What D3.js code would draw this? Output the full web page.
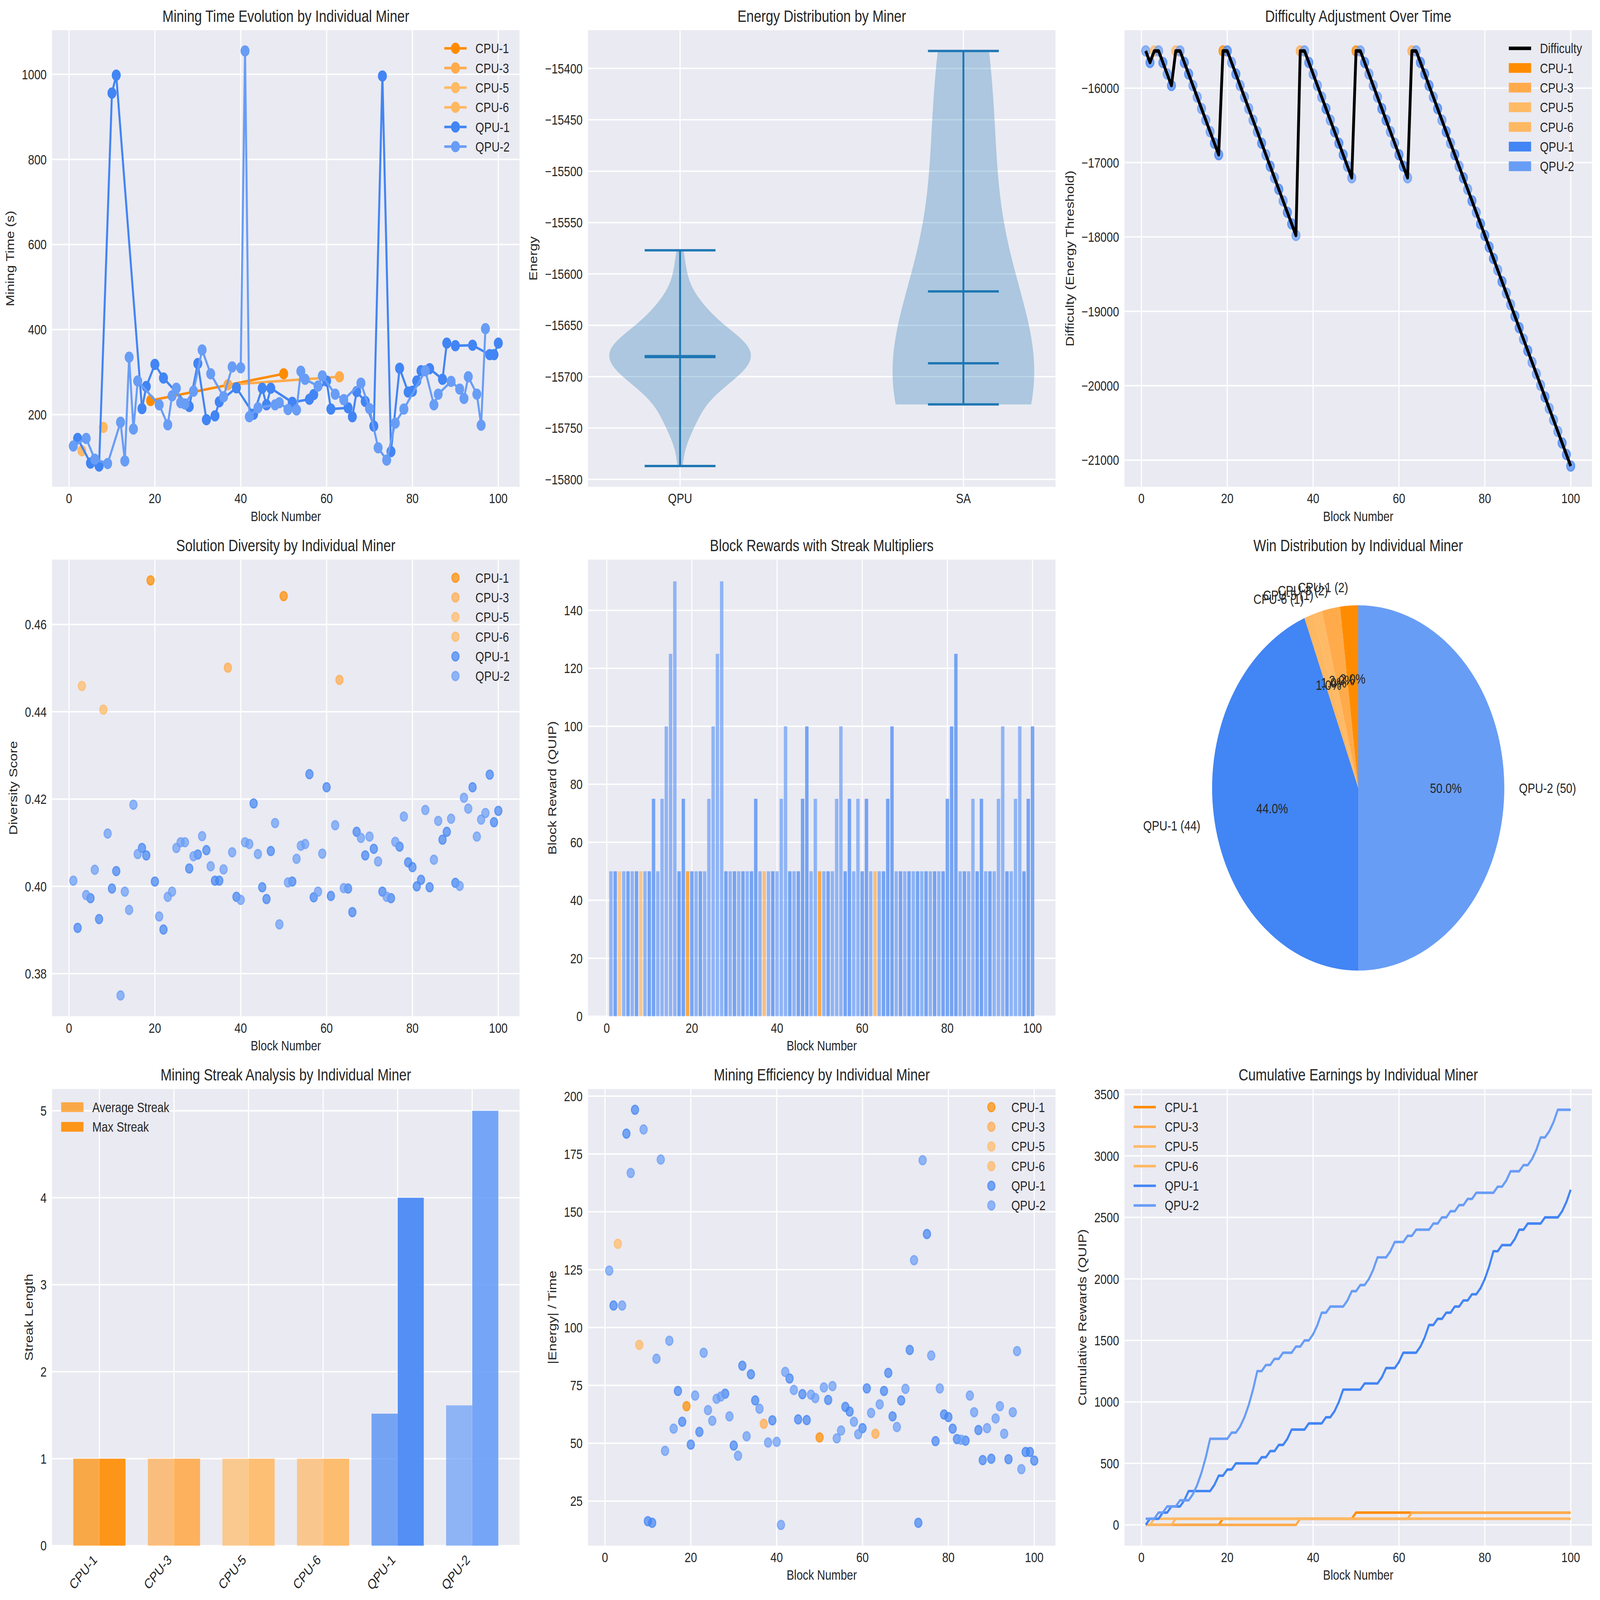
<!DOCTYPE html>
<html>
<head>
<meta charset="utf-8">
<script src="https://cdn.jsdelivr.net/npm/d3@7"></script>
<style>
  html, body { margin: 0; padding: 0; background: #fff; overflow: hidden; }
  #fig { display: block; width: 100vw; height: 100vh; }
  text { font-family: "Liberation Sans", Arial, sans-serif; fill: #262626; }
</style>
</head>
<body>
<svg id="fig"></svg>
<script>
// ---- data ----
const miners = ["CPU-1", "CPU-3", "CPU-5", "CPU-6", "QPU-1", "QPU-2"];
const minerColors = ["#FF8C00", "#FFAB4C", "#FFBA66", "#FFB862", "#4285F4", "#689DF6"];
const codeNames = { C1: "CPU-1", C3: "CPU-3", C5: "CPU-5", C6: "CPU-6", Q1: "QPU-1", Q2: "QPU-2" };

const blocks = d3.range(1, 101);

const winnerCodes = [
  "Q2","Q1","C5","Q2","Q1","Q2","Q1","C6","Q2","Q1",
  "Q1","Q2","Q2","Q2","Q2","Q2","Q1","Q1","C1","Q1",
  "Q2","Q1","Q2","Q2","Q2","Q2","Q2","Q1","Q2","Q1",
  "Q2","Q1","Q2","Q1","Q1","Q2","C3","Q2","Q1","Q2",
  "Q2","Q2","Q1","Q2","Q1","Q1","Q1","Q2","Q2","C1",
  "Q2","Q1","Q2","Q2","Q2","Q1","Q1","Q2","Q2","Q1",
  "Q1","Q2","C3","Q2","Q1","Q1","Q1","Q2","Q1","Q2",
  "Q1","Q2","Q1","Q2","Q1","Q2","Q1","Q2","Q1","Q1",
  "Q1","Q1","Q2","Q1","Q2","Q2","Q1","Q1","Q2","Q1",
  "Q2","Q2","Q2","Q1","Q2","Q2","Q2","Q1","Q1","Q1"
];

const miningTime = [
  126, 144, 115, 144, 86, 95, 79, 170, 85, 956,
  998, 182, 91, 335, 166, 279, 214, 266, 233, 318,
  223, 286, 176, 244, 262, 228, 225, 219, 255, 320,
  352, 188, 296, 197, 230, 242, 270, 312, 263, 310,
  1055, 195, 201, 216, 262, 223, 262, 223, 228, 296,
  212, 229, 211, 302, 283, 236, 247, 267, 291, 279,
  213, 248, 289, 235, 216, 195, 254, 274, 231, 214,
  173, 122, 996, 93, 113, 180, 309, 213, 253, 255,
  279, 303, 303, 308, 223, 248, 283, 368, 278, 362,
  260, 238, 289, 363, 248, 175, 402, 341, 341, 368
];

const rewards = [
  50, 50, 50, 50, 50, 50, 50, 50, 50, 50,
  75, 50, 75, 100, 125, 150, 50, 75, 50, 50,
  50, 50, 50, 75, 100, 125, 150, 50, 50, 50,
  50, 50, 50, 50, 75, 50, 50, 50, 50, 50,
  75, 100, 50, 50, 50, 75, 100, 50, 75, 50,
  50, 50, 50, 75, 100, 50, 75, 50, 75, 50,
  75, 50, 50, 50, 50, 75, 100, 50, 50, 50,
  50, 50, 50, 50, 50, 50, 50, 50, 50, 75,
  100, 125, 50, 50, 50, 75, 50, 75, 50, 50,
  50, 75, 100, 50, 50, 75, 100, 50, 75, 100
];

const difficulty = [
  -15500, -15655, -15500, -15500, -15655, -15810, -15965, -15500, -15500, -15655,
  -15810, -15965, -16120, -16275, -16430, -16585, -16740, -16895, -15500, -15500,
  -15655, -15810, -15965, -16120, -16275, -16430, -16585, -16740, -16895, -17050,
  -17205, -17360, -17515, -17670, -17825, -17980, -15500, -15500, -15655, -15810,
  -15965, -16120, -16275, -16430, -16585, -16740, -16895, -17050, -17205, -15500,
  -15500, -15655, -15810, -15965, -16120, -16275, -16430, -16585, -16740, -16895,
  -17050, -17205, -15500, -15500, -15655, -15810, -15965, -16120, -16275, -16430,
  -16585, -16740, -16895, -17050, -17205, -17360, -17515, -17670, -17825, -17980,
  -18135, -18290, -18445, -18600, -18755, -18910, -19065, -19220, -19375, -19530,
  -19685, -19840, -19995, -20150, -20305, -20460, -20615, -20770, -20925, -21080
];

const diversity = [
  0.4013, 0.3905, 0.4459, 0.3980, 0.3973, 0.4038, 0.3925, 0.4405, 0.4121, 0.3995,
  0.4035, 0.3750, 0.3988, 0.3946, 0.4187, 0.4074, 0.4088, 0.4071, 0.4701, 0.4011,
  0.3931, 0.3901, 0.3976, 0.3988, 0.4088, 0.4101, 0.4101, 0.4041, 0.4069, 0.4073,
  0.4115, 0.4083, 0.4046, 0.4013, 0.4013, 0.4039, 0.4501, 0.4078, 0.3976, 0.3969,
  0.4101, 0.4097, 0.4190, 0.4074, 0.3998, 0.3971, 0.4081, 0.4145, 0.3913, 0.4665,
  0.4009, 0.4011, 0.4063, 0.4093, 0.4097, 0.4257, 0.3975, 0.3988, 0.4075, 0.4227,
  0.3978, 0.4140, 0.4473, 0.3996, 0.3995, 0.3941, 0.4125, 0.4111, 0.4071, 0.4114,
  0.4086, 0.4057, 0.3988, 0.3976, 0.3973, 0.4102, 0.4091, 0.4160, 0.4055, 0.4044,
  0.4000, 0.4015, 0.4175, 0.3998, 0.4061, 0.4150, 0.4107, 0.4125, 0.4155, 0.4008,
  0.4001, 0.4203, 0.4178, 0.4227, 0.4114, 0.4153, 0.4168, 0.4256, 0.4147, 0.4173
];

const efficiency = [
  124.6, 109.5, 136.2, 109.5, 183.8, 166.8, 194.1, 92.5, 185.6, 16.3,
  15.6, 86.5, 172.6, 46.7, 94.3, 56.3, 72.6, 59.3, 66.0, 49.4,
  70.6, 54.9, 89.1, 64.3, 59.7, 69.2, 70.2, 71.4, 61.6, 49.0,
  44.6, 83.5, 53.0, 79.8, 68.5, 64.9, 58.4, 50.3, 59.9, 50.6,
  14.7, 80.8, 78.0, 73.0, 60.3, 71.2, 60.0, 71.0, 69.5, 52.5,
  74.1, 68.7, 74.7, 52.1, 55.5, 65.7, 63.7, 59.3, 53.9, 56.5,
  73.7, 63.1, 54.1, 66.8, 72.6, 80.4, 61.6, 57.0, 68.5, 73.5,
  90.3, 129.1, 15.6, 172.3, 140.4, 87.9, 50.9, 73.7, 62.4, 61.3,
  56.3, 51.8, 51.5, 51.1, 70.6, 63.4, 55.7, 42.7, 56.5, 43.3,
  60.7, 66.0, 54.1, 43.1, 63.4, 89.8, 38.8, 46.2, 46.2, 42.5
];

const qpuEnergy = [
  -15787, -15764, -15755, -15750, -15746, -15742, -15739, -15736, -15732, -15729,
  -15726, -15723, -15720, -15718, -15716, -15714, -15712, -15710, -15709, -15708,
  -15707, -15705, -15704, -15702, -15701, -15700, -15699, -15698, -15697, -15696,
  -15695, -15694, -15693, -15692, -15691, -15690, -15689, -15688, -15688, -15687,
  -15686, -15685, -15684, -15683, -15682, -15681, -15680, -15680, -15679, -15679,
  -15678, -15677, -15676, -15675, -15674, -15673, -15672, -15671, -15670, -15670,
  -15669, -15668, -15668, -15667, -15666, -15665, -15664, -15663, -15662, -15661,
  -15660, -15659, -15658, -15656, -15654, -15652, -15651, -15649, -15648, -15646,
  -15643, -15641, -15639, -15638, -15636, -15633, -15630, -15628, -15624, -15619,
  -15612, -15602, -15591, -15577
];
const saEnergy = [-15727, -15712, -15695, -15679, -15506, -15383];
const violinLabels = ["QPU", "SA"];

const blockTicks = [0, 20, 40, 60, 80, 100];
const timeTicks = [200, 400, 600, 800, 1000];
const energyTicks = [-15800, -15750, -15700, -15650, -15600, -15550, -15500, -15450, -15400];
const diffTicks = [-21000, -20000, -19000, -18000, -17000, -16000];
const diversityTicks = [0.38, 0.40, 0.42, 0.44, 0.46];
const rewardTicks = [0, 20, 40, 60, 80, 100, 120, 140];
const streakTicks = [0, 1, 2, 3, 4, 5];
const effTicks = [25, 50, 75, 100, 125, 150, 175, 200];
const cumTicks = [0, 500, 1000, 1500, 2000, 2500, 3000, 3500];

// ---- layout ----
const W = 5962, H = 4769;
const colX = [194, 2191, 4190], rowY = [90, 1668, 3246];
const PW = 1742, PH = 1361;
const FS = 41.7, TFS = 50;
const BG = "#EAEAF2";

const winners = winnerCodes.map(c => codeNames[c]);
const colorOf = m => minerColors[miners.indexOf(m)];

// the figure is stretched to fill the whole window
const svg = d3.select("#fig").attr("viewBox", `0 0 ${W} ${H}`).attr("preserveAspectRatio", "none");
svg.append("rect").attr("width", W).attr("height", H).attr("fill", "#fff");

function panel(c, r) {
  const g = svg.append("g").attr("transform", `translate(${colX[c]},${rowY[r]})`);
  return { g, w: PW, h: PH };
}
function padded(lo, hi) { const d = (hi - lo) * 0.05; return [lo - d, hi + d]; }
const fmtNum = v => (v < 0 ? "\u2212" + Math.abs(v) : String(v));

function frame(p, x, y, o) {
  const g = p.g;
  g.append("rect").attr("width", p.w).attr("height", p.h).attr("fill", BG);
  const grid = g.append("g").attr("stroke", "#fff").attr("stroke-width", 4.2);
  o.xticks.forEach(t => grid.append("line").attr("x1", x(t)).attr("x2", x(t)).attr("y1", 0).attr("y2", p.h));
  o.yticks.forEach(t => grid.append("line").attr("x1", 0).attr("x2", p.w).attr("y1", y(t)).attr("y2", y(t)));

  let maxw = 0;
  o.yticks.forEach(t => {
    const tx = g.append("text").attr("x", -20).attr("y", y(t)).attr("dy", "0.35em")
      .attr("text-anchor", "end").attr("font-size", FS).text(o.fy ? o.fy(t) : fmtNum(t));
    maxw = Math.max(maxw, tx.node().getComputedTextLength());
  });
  o.xticks.forEach((t, i) => {
    const lab = o.xlabels ? o.xlabels[i] : fmtNum(t);
    if (o.rotate) {
      g.append("text").attr("text-anchor", "end").attr("font-size", FS)
        .attr("transform", `translate(${x(t) - 6},${p.h + 45}) rotate(-45)`).text(lab);
    } else {
      g.append("text").attr("x", x(t)).attr("y", p.h + 49).attr("text-anchor", "middle")
        .attr("font-size", FS).text(lab);
    }
  });
  g.append("text").attr("x", p.w / 2).attr("y", -25).attr("text-anchor", "middle")
    .attr("font-size", TFS).text(o.title);
  if (o.xlabel) g.append("text").attr("x", p.w / 2).attr("y", p.h + 102)
    .attr("text-anchor", "middle").attr("font-size", FS).text(o.xlabel);
  if (o.ylabel) g.append("text").attr("text-anchor", "middle").attr("font-size", FS)
    .attr("transform", `translate(${-20 - maxw - 29},${p.h / 2}) rotate(-90)`).text(o.ylabel);
}

function legend(p, items, corner) {
  const rowH = 58.6;
  const g = p.g.append("g");
  let tw = 0;
  items.forEach((it, i) => {
    const t = g.append("text").attr("x", 116).attr("y", i * rowH).attr("dy", "0.35em")
      .attr("font-size", FS).text(it.label);
    tw = Math.max(tw, t.node().getComputedTextLength());
    const cy = i * rowH;
    if (it.type === "line" || it.type === "linemarker") {
      g.append("line").attr("x1", 0).attr("x2", 83).attr("y1", cy).attr("y2", cy)
        .attr("stroke", it.color).attr("stroke-width", it.lw || 7.5);
    }
    if (it.type === "linemarker") {
      g.append("circle").attr("cx", 41.5).attr("cy", cy).attr("r", 15)
        .attr("fill", it.color).attr("stroke", it.color).attr("stroke-width", 3.5);
    }
    if (it.type === "marker") {
      g.append("circle").attr("cx", 41.5).attr("cy", cy).attr("r", 13.5)
        .attr("fill", it.color).attr("fill-opacity", 0.7)
        .attr("stroke", it.color).attr("stroke-opacity", 0.7).attr("stroke-width", 4);
    }
    if (it.type === "patch") {
      g.append("rect").attr("x", 0).attr("y", cy - 14.5).attr("width", 83).attr("height", 29)
        .attr("fill", it.color).attr("fill-opacity", it.alpha == null ? 1 : it.alpha);
    }
  });
  const bw = 116 + tw;
  const x0 = corner === "ur" ? p.w - 37 - bw : 34;
  g.attr("transform", `translate(${x0},54)`);
}

const blockX = p => d3.scaleLinear().domain(padded(1, 100)).range([0, p.w]);

// ---- 1. mining time ----
{
  const p = panel(0, 0);
  const x = blockX(p);
  const y = d3.scaleLinear().domain(padded(d3.min(miningTime), d3.max(miningTime))).range([p.h, 0]);
  frame(p, x, y, { xticks: blockTicks, yticks: timeTicks, title: "Mining Time Evolution by Individual Miner",
    xlabel: "Block Number", ylabel: "Mining Time (s)" });
  miners.forEach(m => {
    const pts = blocks.filter((b, i) => winners[i] === m).map(b => [b, miningTime[b - 1]]);
    const c = colorOf(m);
    p.g.append("path").attr("d", d3.line().x(d => x(d[0])).y(d => y(d[1]))(pts))
      .attr("fill", "none").attr("stroke", c).attr("stroke-width", 7.5).attr("stroke-linejoin", "round");
    p.g.append("g").selectAll("circle").data(pts).join("circle")
      .attr("cx", d => x(d[0])).attr("cy", d => y(d[1])).attr("r", 15)
      .attr("fill", c).attr("stroke", c).attr("stroke-width", 3.5);
  });
  legend(p, miners.map(m => ({ label: m, color: colorOf(m), type: "linemarker" })), "ur");
}

// ---- 2. energy violin ----
{
  const p = panel(1, 0);
  const x = d3.scaleLinear().domain([0.675, 2.325]).range([0, p.w]);
  const all = qpuEnergy.concat(saEnergy);
  const y = d3.scaleLinear().domain(padded(d3.min(all), d3.max(all))).range([p.h, 0]);
  frame(p, x, y, { xticks: [1, 2], xlabels: violinLabels, yticks: energyTicks,
    title: "Energy Distribution by Miner", ylabel: "Energy" });
  const blue = "#1f77b4";
  [qpuEnergy, saEnergy].forEach((vals, k) => {
    const pos = k + 1;
    const n = vals.length, bw = d3.deviation(vals) * Math.pow(n, -0.2);
    const lo = d3.min(vals), hi = d3.max(vals);
    const prof = d3.range(100).map(i => {
      const e = lo + (hi - lo) * i / 99;
      return [e, d3.sum(vals, v => Math.exp(-0.5 * ((e - v) / bw) ** 2))];
    });
    const mx = d3.max(prof, d => d[1]);
    p.g.append("path")
      .attr("d", d3.area().y(d => y(d[0])).x0(d => x(pos - 0.25 * d[1] / mx)).x1(d => x(pos + 0.25 * d[1] / mx))(prof))
      .attr("fill", blue).attr("fill-opacity", 0.3);
    const lg = p.g.append("g").attr("stroke", blue).attr("stroke-width", 7);
    lg.append("line").attr("x1", x(pos)).attr("x2", x(pos)).attr("y1", y(lo)).attr("y2", y(hi));
    [lo, hi, d3.mean(vals), d3.median(vals)].forEach(v =>
      lg.append("line").attr("x1", x(pos - 0.125)).attr("x2", x(pos + 0.125)).attr("y1", y(v)).attr("y2", y(v)));
  });
}

// ---- 3. difficulty ----
{
  const p = panel(2, 0);
  const x = blockX(p);
  const y = d3.scaleLinear().domain(padded(d3.min(difficulty), d3.max(difficulty))).range([p.h, 0]);
  frame(p, x, y, { xticks: blockTicks, yticks: diffTicks, title: "Difficulty Adjustment Over Time",
    xlabel: "Block Number", ylabel: "Difficulty (Energy Threshold)" });
  p.g.append("g").selectAll("circle").data(blocks).join("circle")
    .attr("cx", b => x(b)).attr("cy", b => y(difficulty[b - 1])).attr("r", 15)
    .attr("fill", b => colorOf(winners[b - 1])).attr("fill-opacity", 0.7)
    .attr("stroke", b => colorOf(winners[b - 1])).attr("stroke-opacity", 0.7).attr("stroke-width", 4);
  p.g.append("path").attr("d", d3.line().x(b => x(b)).y(b => y(difficulty[b - 1]))(blocks))
    .attr("fill", "none").attr("stroke", "#000").attr("stroke-width", 10.5).attr("stroke-linejoin", "round");
  legend(p, [{ label: "Difficulty", color: "#000", type: "line", lw: 10.5 }]
    .concat(miners.map(m => ({ label: m, color: colorOf(m), type: "patch" }))), "ur");
}

// ---- 4. diversity ----
{
  const p = panel(0, 1);
  const x = blockX(p);
  const y = d3.scaleLinear().domain(padded(d3.min(diversity), d3.max(diversity))).range([p.h, 0]);
  frame(p, x, y, { xticks: blockTicks, yticks: diversityTicks, fy: d3.format(".2f"),
    title: "Solution Diversity by Individual Miner", xlabel: "Block Number", ylabel: "Diversity Score" });
  miners.forEach(m => {
    const c = colorOf(m);
    p.g.append("g").selectAll("circle").data(blocks.filter((b, i) => winners[i] === m)).join("circle")
      .attr("cx", b => x(b)).attr("cy", b => y(diversity[b - 1])).attr("r", 13.5)
      .attr("fill", c).attr("fill-opacity", 0.7).attr("stroke", c).attr("stroke-opacity", 0.7).attr("stroke-width", 4);
  });
  legend(p, miners.map(m => ({ label: m, color: colorOf(m), type: "marker" })), "ur");
}

// ---- 5. block rewards ----
{
  const p = panel(1, 1);
  const x = d3.scaleLinear().domain(padded(0.6, 100.4)).range([0, p.w]);
  const y = d3.scaleLinear().domain([0, d3.max(rewards) * 1.05]).range([p.h, 0]);
  frame(p, x, y, { xticks: blockTicks, yticks: rewardTicks, title: "Block Rewards with Streak Multipliers",
    xlabel: "Block Number", ylabel: "Block Reward (QUIP)" });
  p.g.append("g").selectAll("rect").data(blocks).join("rect")
    .attr("x", b => x(b - 0.4)).attr("width", b => x(b + 0.4) - x(b - 0.4))
    .attr("y", b => y(rewards[b - 1])).attr("height", b => y(0) - y(rewards[b - 1]))
    .attr("fill", b => colorOf(winners[b - 1])).attr("fill-opacity", 0.7);
}

// ---- 6. win distribution pie ----
{
  const p = panel(2, 1);
  p.g.append("text").attr("x", p.w / 2).attr("y", -25).attr("text-anchor", "middle")
    .attr("font-size", TFS).text("Win Distribution by Individual Miner");
  const counts = miners.map(m => winners.filter(w => w === m).length);
  const total = d3.sum(counts);
  const R = p.h / 2.5;
  const g = p.g.append("g").attr("transform", `translate(${p.w / 2},${p.h / 2})`);
  const arcs = d3.pie().sort(null).startAngle(0).endAngle(-2 * Math.PI)(counts);
  const arc = d3.arc().innerRadius(0).outerRadius(R);
  arcs.forEach((a, i) => {
    g.append("path").attr("d", arc(a)).attr("fill", minerColors[i]);
  });
  arcs.forEach((a, i) => {
    const mid = (a.startAngle + a.endAngle) / 2;
    const lx = Math.sin(mid) * R * 1.1, ly = -Math.cos(mid) * R * 1.1;
    g.append("text").attr("x", lx).attr("y", ly).attr("dy", "0.35em")
      .attr("text-anchor", lx > 0.001 ? "start" : "end").attr("font-size", FS)
      .text(`${miners[i]} (${counts[i]})`);
    g.append("text").attr("x", Math.sin(mid) * R * 0.6).attr("y", -Math.cos(mid) * R * 0.6).attr("dy", "0.35em")
      .attr("text-anchor", "middle").attr("font-size", FS)
      .text(d3.format(".1f")(counts[i] / total * 100) + "%");
  });
}

// ---- 7. streaks ----
{
  const p = panel(0, 2);
  const runs = miners.map(m => {
    const out = []; let cur = 0;
    winners.forEach(w => { if (w === m) cur++; else if (cur) { out.push(cur); cur = 0; } });
    if (cur) out.push(cur);
    return out;
  });
  const avg = runs.map(r => d3.mean(r)), mx = runs.map(r => d3.max(r));
  const x = d3.scaleLinear().domain(padded(-0.35, miners.length - 1 + 0.35)).range([0, p.w]);
  const y = d3.scaleLinear().domain([0, d3.max(mx) * 1.05]).range([p.h, 0]);
  frame(p, x, y, { xticks: d3.range(miners.length), xlabels: miners, rotate: true, yticks: streakTicks,
    title: "Mining Streak Analysis by Individual Miner", ylabel: "Streak Length" });
  miners.forEach((m, i) => {
    p.g.append("rect").attr("x", x(i - 0.35)).attr("width", x(i) - x(i - 0.35))
      .attr("y", y(avg[i])).attr("height", y(0) - y(avg[i])).attr("fill", colorOf(m)).attr("fill-opacity", 0.7);
    p.g.append("rect").attr("x", x(i)).attr("width", x(i + 0.35) - x(i))
      .attr("y", y(mx[i])).attr("height", y(0) - y(mx[i])).attr("fill", colorOf(m)).attr("fill-opacity", 0.9);
  });
  legend(p, [
    { label: "Average Streak", color: minerColors[0], type: "patch", alpha: 0.7 },
    { label: "Max Streak", color: minerColors[0], type: "patch", alpha: 0.9 }
  ], "ul");
}

// ---- 8. efficiency ----
{
  const p = panel(1, 2);
  const x = blockX(p);
  const y = d3.scaleLinear().domain(padded(d3.min(efficiency), d3.max(efficiency))).range([p.h, 0]);
  frame(p, x, y, { xticks: blockTicks, yticks: effTicks, title: "Mining Efficiency by Individual Miner",
    xlabel: "Block Number", ylabel: "|Energy| / Time" });
  miners.forEach(m => {
    const c = colorOf(m);
    p.g.append("g").selectAll("circle").data(blocks.filter((b, i) => winners[i] === m)).join("circle")
      .attr("cx", b => x(b)).attr("cy", b => y(efficiency[b - 1])).attr("r", 13.5)
      .attr("fill", c).attr("fill-opacity", 0.7).attr("stroke", c).attr("stroke-opacity", 0.7).attr("stroke-width", 4);
  });
  legend(p, miners.map(m => ({ label: m, color: colorOf(m), type: "marker" })), "ur");
}

// ---- 9. cumulative earnings ----
{
  const p = panel(2, 2);
  const x = blockX(p);
  const series = miners.map(m => Array.from(d3.cumsum(blocks, (b, i) => winners[i] === m ? rewards[i] : 0)));
  const top = d3.max(series, s => d3.max(s));
  const y = d3.scaleLinear().domain(padded(0, top)).range([p.h, 0]);
  frame(p, x, y, { xticks: blockTicks, yticks: cumTicks, title: "Cumulative Earnings by Individual Miner",
    xlabel: "Block Number", ylabel: "Cumulative Rewards (QUIP)" });
  series.forEach((s, k) => {
    p.g.append("path").attr("d", d3.line().x((v, i) => x(blocks[i])).y(v => y(v))(s))
      .attr("fill", "none").attr("stroke", minerColors[k]).attr("stroke-width", 7.5).attr("stroke-linejoin", "round");
  });
  legend(p, miners.map(m => ({ label: m, color: colorOf(m), type: "line" })), "ul");
}
</script>
</body>
</html>
